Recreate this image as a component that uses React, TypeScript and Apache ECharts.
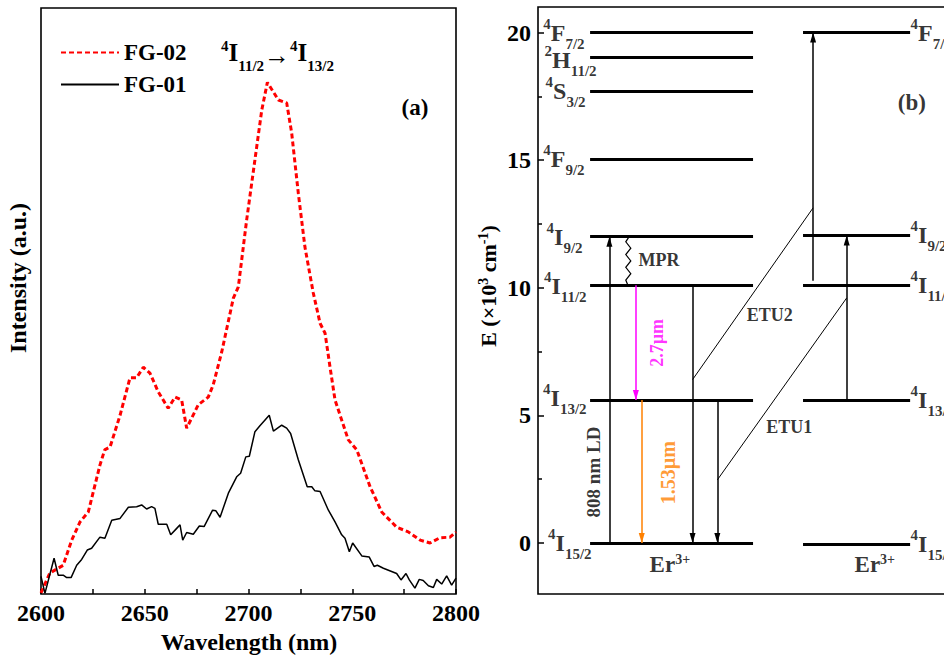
import React, { useEffect, useRef } from 'react';
import * as echarts from 'echarts';

const SERIF = '"Liberation Serif", "Times New Roman", serif';

// ---------- Panel (a): emission spectra ----------
const fg02Wavelength = [2600.0, 2604.3, 2610.7, 2614.8, 2618.8, 2622.8, 2628.4, 2630.7, 2633.3, 2638.1, 2642.9, 2646.1, 2649.3, 2652.5, 2656.5, 2661.3, 2664.6, 2667.8, 2670.2, 2675.8, 2680.6, 2683.0, 2687.1, 2692.7, 2695.1, 2699.1, 2703.1, 2706.4, 2709.1, 2714.4, 2718.4, 2720.8, 2724.0, 2727.2, 2731.2, 2734.5, 2736.9, 2739.3, 2741.7, 2748.1, 2752.2, 2758.6, 2764.2, 2771.4, 2777.0, 2782.7, 2787.5, 2792.3, 2797.1, 2800.0];
const fg02Intensity = [0.2, 3.6, 4.9, 9.2, 12.3, 14.0, 22.0, 24.6, 25.1, 30.5, 36.9, 36.9, 38.7, 37.7, 34.5, 31.7, 33.6, 33.1, 28.3, 32.3, 33.6, 35.7, 41.3, 50.5, 52.4, 63.8, 74.1, 82.6, 87.3, 84.3, 83.8, 78.7, 68.4, 59.2, 51.4, 46.2, 44.5, 38.7, 33.1, 26.3, 24.6, 18.3, 14.0, 11.4, 10.6, 9.2, 8.7, 9.6, 9.7, 10.6];

const fg01Wavelength = [2600.0, 2601.9, 2606.3, 2608.3, 2610.7, 2612.4, 2614.5, 2617.2, 2619.6, 2622.3, 2624.4, 2628.4, 2630.8, 2634.1, 2638.1, 2642.1, 2646.1, 2648.5, 2650.9, 2653.3, 2654.9, 2656.5, 2660.6, 2662.5, 2665.4, 2667.0, 2668.3, 2670.2, 2673.4, 2676.3, 2678.6, 2682.7, 2684.3, 2686.3, 2690.3, 2694.3, 2696.2, 2698.7, 2700.4, 2703.1, 2705.5, 2710.0, 2712.0, 2716.0, 2718.4, 2720.3, 2724.0, 2728.3, 2730.5, 2732.0, 2734.5, 2738.5, 2741.7, 2744.9, 2746.5, 2748.6, 2750.2, 2754.6, 2758.2, 2760.5, 2762.1, 2765.0, 2771.4, 2773.5, 2775.9, 2777.5, 2780.2, 2782.3, 2784.2, 2786.7, 2789.1, 2790.7, 2793.1, 2795.5, 2797.9, 2800.0];
const fg01Intensity = [3.0, 0.1, 6.1, 3.2, 3.2, 2.8, 2.8, 4.9, 5.9, 7.5, 7.8, 9.7, 9.5, 12.6, 12.9, 14.8, 14.9, 15.2, 14.5, 14.9, 14.6, 11.9, 11.9, 10.1, 11.2, 11.8, 9.2, 10.5, 10.2, 11.6, 11.5, 14.3, 14.2, 13.1, 17.2, 20.0, 20.6, 23.4, 23.5, 27.7, 28.7, 30.5, 27.8, 28.8, 28.3, 27.4, 22.9, 18.3, 18.3, 17.6, 17.5, 14.3, 12.3, 10.1, 9.5, 7.2, 8.7, 6.5, 6.3, 4.7, 4.9, 4.4, 3.5, 2.4, 3.5, 2.4, 1.0, 2.5, 2.3, 1.4, 1.1, 2.5, 1.7, 3.1, 1.5, 2.7];

const seriesNames = ['FG-02', 'FG-01'];

// ---------- Panel (b): energy level diagram (E in 10^3 cm^-1) ----------
const energyTicks = [0, 5, 10, 15, 20];
const energyMinorTicks = [2.5, 7.5, 12.5, 17.5];

const leftColumn = [12.4, 51.2];
const leftMult = ['4', '2', '4', '4', '4', '4', '4', '4'];
const leftLetter = ['F', 'H', 'S', 'F', 'I', 'I', 'I', 'I'];
const leftJ = ['7/2', '11/2', '3/2', '9/2', '9/2', '11/2', '13/2', '15/2'];
const leftEnergy = [20.0, 19.05, 17.7, 15.05, 12.0, 10.1, 5.6, 0];
const leftLabelShift = [-3, 9, -2, -3, -5, -1, -1, 4];
const leftLabelDy = [0, 3, 0, 0, 0, 1, -2, 0];

const rightColumn = [63.1, 88.6];
const rightMult = ['4', '4', '4', '4', '4'];
const rightLetter = ['F', 'I', 'I', 'I', 'I'];
const rightJ = ['7/2', '9/2', '11/2', '13/2', '15/2'];
const rightEnergy = [20.0, 12.05, 10.1, 5.6, -0.06];

// vertical transitions: x position, start energy, end energy
const blackArrowX = [17.0, 36.8, 42.7, 65.5, 73.5];
const blackArrowFrom = [0, 10.1, 5.6, 10.27, 5.6];
const blackArrowTo = [12.0, 0, 0, 20.0, 12.05];
const magentaArrow = { x: 23.3, from: 10.1, to: 5.6 };
const orangeArrow = { x: 24.7, from: 5.6, to: 0 };

// energy-transfer upconversion guide lines
const etuLines = [
  [[36.8, 6.4], [65.5, 13.13]],
  [[42.7, 2.47], [73.5, 9.6]],
];

// multiphonon relaxation zigzag
const mprZigzag = [[21.7, 12.0], [20.9, 11.8], [22.1, 11.55], [20.9, 11.3], [22.1, 11.05], [20.9, 10.8], [22.1, 10.55], [20.9, 10.3], [21.4, 10.1]];

// annotation texts placed in diagram coordinates
const annotText = ['MPR', 'ETU2', 'ETU1', '2.7µm', '1.53µm', '808 nm LD', '{m|Er}{s|3+}', '{m|Er}{s|3+}', '(b)'];
const annotX = [28.8, 55.2, 59.8, 28.3, 31.0, 13.3, 31.4, 80.2, 89.0];
const annotE = [11.1, 8.94, 4.56, 7.84, 2.75, 2.78, -0.86, -0.86, 17.25];
const annotColor = ['#000', '#000', '#000', '#ff00ff', '#ff8000', '#000', '#000', '#000', '#000'];
const annotSize = [18, 18, 18, 18, 20, 19, 23, 23, 23];
const annotRotate = [0, 0, 0, 90, 90, 90, 0, 0, 0];

const ARROW = 'path://M0,0 M20,0 M10,14 L13,28 L7,28 Z';

const levelRich = {
  main: { fontFamily: SERIF, fontWeight: 'bold', fontSize: 24, color: '#000', lineHeight: 24 },
  sup: { fontFamily: SERIF, fontWeight: 'bold', fontSize: 15, color: '#000', lineHeight: 15, padding: [0, 0, 18, 0] },
  sub: { fontFamily: SERIF, fontWeight: 'bold', fontSize: 15, color: '#000', lineHeight: 15, padding: [22, 0, 0, 0] },
};

const erRich = (size: number, color: string) => ({
  m: { fontFamily: SERIF, fontWeight: 'bold', fontSize: size, color, lineHeight: size },
  s: { fontFamily: SERIF, fontWeight: 'bold', fontSize: 14, color, lineHeight: 14, padding: [0, 0, 10, 0] },
});

function termLabel(m: string, l: string, j: string) {
  return `{sup|${m}}{main|${l}}{sub|${j}}`;
}

export default function App() {
  const ref = useRef<HTMLDivElement>(null);

  useEffect(() => {
    if (!ref.current) return;
    const chart = echarts.init(ref.current, undefined, { renderer: 'svg' });

    const fg02 = fg02Wavelength.map((w, i) => [w, fg02Intensity[i]]);
    const fg01 = fg01Wavelength.map((w, i) => [w, fg01Intensity[i]]);

    const levelLines = [
      ...leftEnergy.map((e) => ({ coords: [[leftColumn[0], e], [leftColumn[1], e]] })),
      ...rightEnergy.map((e) => ({ coords: [[rightColumn[0], e], [rightColumn[1], e]] })),
    ];

    const labelItems: any[] = [];
    leftEnergy.forEach((e, i) => {
      labelItems.push({
        value: [leftColumn[0], e],
        label: {
          show: true,
          position: 'left',
          distance: 2,
          offset: [leftLabelShift[i], leftLabelDy[i]],
          formatter: termLabel(leftMult[i], leftLetter[i], leftJ[i]),
          rich: levelRich,
        },
      });
    });
    rightEnergy.forEach((e, i) => {
      labelItems.push({
        value: [rightColumn[1], e],
        label: {
          show: true,
          position: 'right',
          distance: 0,
          offset: [0, 0],
          formatter: termLabel(rightMult[i], rightLetter[i], rightJ[i]),
          rich: levelRich,
        },
      });
    });
    annotText.forEach((t, i) => {
      labelItems.push({
        value: [annotX[i], annotE[i]],
        label: {
          show: true,
          position: 'inside',
          rotate: annotRotate[i],
          formatter: t,
          fontFamily: SERIF,
          fontWeight: 'bold',
          fontSize: annotSize[i],
          color: annotColor[i],
          rich: erRich(annotSize[i], annotColor[i]),
        },
      });
    });

    const axisFont = { fontFamily: SERIF, fontWeight: 'bold', fontSize: 24, color: '#000' };

    const option: any = {
      animation: false,
      backgroundColor: '#fff',
      grid: [
        { left: 41, top: 8, width: 415, height: 586, show: true, borderColor: '#000', borderWidth: 1.6, outerBoundsMode: 'none', containLabel: false },
        { left: 538, top: 7, width: 420, height: 587, show: true, borderColor: '#000', borderWidth: 1.6, outerBoundsMode: 'none', containLabel: false },
      ],
      legend: {
        data: seriesNames,
        orient: 'vertical',
        left: 55,
        top: 36,
        itemWidth: 58,
        itemHeight: 14,
        itemGap: 9,
        itemStyle: { opacity: 0, borderWidth: 0 },
        textStyle: { fontFamily: SERIF, fontWeight: 'bold', fontSize: 23, color: '#000', lineHeight: 23 },
      },
      xAxis: [
        {
          gridIndex: 0, type: 'value', min: 2600, max: 2800, interval: 50,
          axisLine: { show: false },
          axisTick: { show: true, inside: true, length: 5, lineStyle: { color: '#000', width: 1.5 } },
          minorTick: { show: true, splitNumber: 2, length: 5, lineStyle: { color: '#000', width: 1.5 } },
          axisLabel: { ...axisFont, margin: 7, formatter: (v: number) => String(v) },
          splitLine: { show: false },
        },
        { gridIndex: 1, type: 'value', min: 0, max: 100, show: false },
      ],
      yAxis: [
        { gridIndex: 0, type: 'value', min: 0, max: 100, axisLine: { show: false }, axisTick: { show: false }, axisLabel: { show: false }, splitLine: { show: false } },
        {
          gridIndex: 1, type: 'value', min: -2, max: 21, position: 'left',
          axisLine: { show: false },
          axisTick: { show: true, inside: true, length: 6, customValues: energyTicks, lineStyle: { color: '#000', width: 1.5 } },
          axisLabel: { ...axisFont, margin: 7, customValues: energyTicks },
          splitLine: { show: false },
        },
        {
          gridIndex: 1, type: 'value', min: -2, max: 21, position: 'left', offset: 0,
          axisLine: { show: false },
          axisTick: { show: true, inside: true, length: 4, customValues: energyMinorTicks, lineStyle: { color: '#000', width: 1.5 } },
          axisLabel: { show: false },
          splitLine: { show: false },
        },
      ],
      series: [
        {
          name: 'FG-02', type: 'line', xAxisIndex: 0, yAxisIndex: 0, data: fg02, symbol: 'none',
          lineStyle: { color: '#ff0000', width: 3, type: [5, 3] }, itemStyle: { color: '#ff0000' },
        },
        {
          name: 'FG-01', type: 'line', xAxisIndex: 0, yAxisIndex: 0, data: fg01, symbol: 'none',
          lineStyle: { color: '#000', width: 1.5 }, itemStyle: { color: '#000' },
        },
        {
          name: 'levels', type: 'lines', coordinateSystem: 'cartesian2d', xAxisIndex: 1, yAxisIndex: 1,
          data: levelLines, lineStyle: { color: '#000', width: 3, opacity: 1 }, symbol: ['none', 'none'], silent: true,
        },
        {
          name: 'etu', type: 'lines', coordinateSystem: 'cartesian2d', xAxisIndex: 1, yAxisIndex: 1,
          data: etuLines.map((c) => ({ coords: c })), lineStyle: { color: '#000', width: 1, opacity: 1 }, symbol: ['none', 'none'], silent: true,
        },
        {
          name: 'mpr', type: 'lines', coordinateSystem: 'cartesian2d', xAxisIndex: 1, yAxisIndex: 1, polyline: true,
          data: [{ coords: mprZigzag }], lineStyle: { color: '#000', width: 1.2, opacity: 1 }, symbol: ['none', 'none'], silent: true,
        },
        {
          name: 'arrowsBlack', type: 'lines', coordinateSystem: 'cartesian2d', xAxisIndex: 1, yAxisIndex: 1,
          data: blackArrowX.map((x, i) => ({ coords: [[x, blackArrowFrom[i]], [x, blackArrowTo[i]]] })),
          lineStyle: { color: '#000', width: 1.5, opacity: 1 }, symbol: ['none', ARROW], symbolSize: 20, silent: true,
        },
        {
          name: 'arrowMagenta', type: 'lines', coordinateSystem: 'cartesian2d', xAxisIndex: 1, yAxisIndex: 1,
          data: [{ coords: [[magentaArrow.x, magentaArrow.from], [magentaArrow.x, magentaArrow.to]] }],
          lineStyle: { color: '#ff00ff', width: 1.5, opacity: 1 }, symbol: ['none', ARROW], symbolSize: 20, silent: true,
        },
        {
          name: 'arrowOrange', type: 'lines', coordinateSystem: 'cartesian2d', xAxisIndex: 1, yAxisIndex: 1,
          data: [{ coords: [[orangeArrow.x, orangeArrow.from], [orangeArrow.x, orangeArrow.to]] }],
          lineStyle: { color: '#ff8000', width: 1.5, opacity: 1 }, symbol: ['none', ARROW], symbolSize: 20, silent: true,
        },
        {
          name: 'labels', type: 'scatter', xAxisIndex: 1, yAxisIndex: 1, symbolSize: 1,
          itemStyle: { color: 'rgba(0,0,0,0)' }, data: labelItems, silent: true, clip: false,
        },
      ],
      graphic: [
        {
          type: 'text', x: 249, y: 642,
          style: { text: 'Wavelength (nm)', font: `bold 24px ${SERIF}`, fill: '#000', align: 'center', verticalAlign: 'middle', textAlign: 'center', textVerticalAlign: 'middle' },
        },
        {
          type: 'text', x: 18, y: 278, rotation: Math.PI / 2,
          style: { text: 'Intensity (a.u.)', font: `bold 24px ${SERIF}`, fill: '#000', align: 'center', verticalAlign: 'middle', textAlign: 'center', textVerticalAlign: 'middle' },
        },
        {
          type: 'text', x: 488, y: 286, rotation: Math.PI / 2,
          style: {
            text: '{m|E (×10}{s|3}{m| cm}{s|-1}{m|)}',
            rich: erRich(22, '#000'),
            align: 'center', verticalAlign: 'middle', textAlign: 'center', textVerticalAlign: 'middle',
          },
        },
        {
          type: 'text', x: 221, y: 52,
          style: {
            text: '{sup|4}{main|I}{sub|11/2}{arr|→}{sup|4}{main|I}{sub|13/2}',
            rich: {
              main: { fontFamily: SERIF, fontWeight: 'bold', fontSize: 25, fill: '#000', lineHeight: 25 },
              sup: { fontFamily: SERIF, fontWeight: 'bold', fontSize: 15, fill: '#000', lineHeight: 15, padding: [0, 0, 13, 0] },
              sub: { fontFamily: SERIF, fontWeight: 'bold', fontSize: 15, fill: '#000', lineHeight: 15, padding: [27, 0, 0, 0] },
              arr: { fontFamily: SERIF, fontWeight: 'normal', fontSize: 26, fill: '#000', lineHeight: 26, padding: [6, 0, 0, 0] },
            },
            align: 'left', verticalAlign: 'middle', textAlign: 'left', textVerticalAlign: 'middle',
          },
        },
        {
          type: 'text', x: 415, y: 107,
          style: { text: '(a)', font: `bold 23px ${SERIF}`, fill: '#000', align: 'center', verticalAlign: 'middle', textAlign: 'center', textVerticalAlign: 'middle' },
        },
      ],
    };

    chart.setOption(option);
    return () => chart.dispose();
  }, []);

  return <div ref={ref} style={{ position: 'fixed', left: 0, top: 0, width: 944, height: 655 }} />;
}
